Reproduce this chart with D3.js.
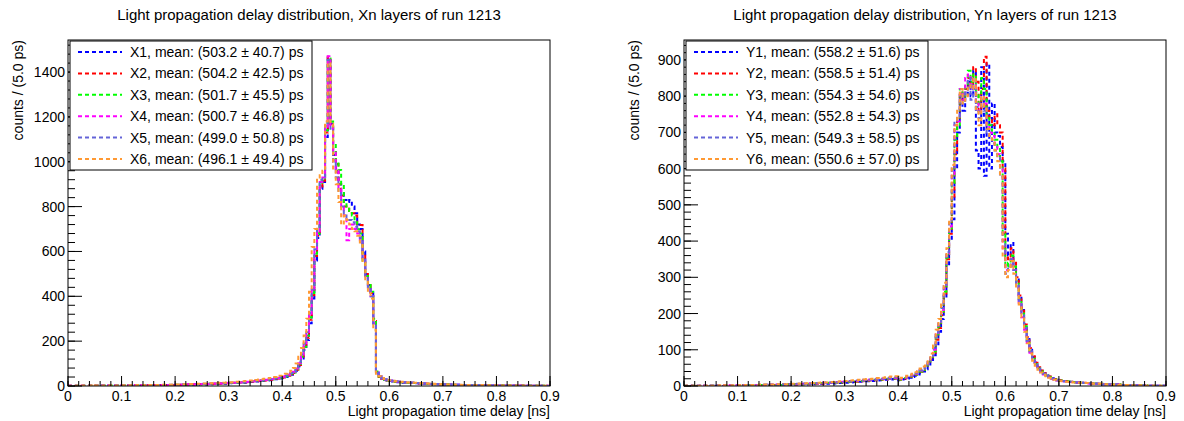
<!DOCTYPE html>
<html>
<head>
<meta charset="utf-8">
<script src="https://cdn.jsdelivr.net/npm/d3@7"></script>
<style>
  body { margin: 0; background: #fff; }
  svg { display: block; }
  text { font-family: "Liberation Sans", Arial, Helvetica, sans-serif; fill: #000; }
</style>
</head>
<body>
<svg id="canvas" width="1184" height="421"></svg>
<script>
// Histogram binning: 180 bins of 5 ps between 0 and 0.9 ns
const binWidth = 0.005;
const xRange = [0, 0.9];
const xMajorTicks = [0, 0.1, 0.2, 0.3, 0.4, 0.5, 0.6, 0.7, 0.8, 0.9];
const xTickLabels = ["0", "0.1", "0.2", "0.3", "0.4", "0.5", "0.6", "0.7", "0.8", "0.9"];
const xMinorStep = 0.02;

const seriesColors = ["#0000ff", "#ff0000", "#00ff00", "#ff00ff", "#6464d8", "#ff9933"];

// ---- Xn layers ----
const xNames = ["X1", "X2", "X3", "X4", "X5", "X6"];
const xMeans = ["(503.2 \u00b1 40.7)", "(504.2 \u00b1 42.5)", "(501.7 \u00b1 45.5)", "(500.7 \u00b1 46.8)", "(499.0 \u00b1 50.8)", "(496.1 \u00b1 49.4)"];
const xYTicks = [0, 200, 400, 600, 800, 1000, 1200, 1400];
const xYMax = 1543;

const X1 = [0,1,0,0,1,1,0,1,2,1,1,0,2,1,1,2,1,2,1,2,
2,1,2,3,2,2,3,2,3,3,2,4,3,3,4,3,4,5,4,4,
5,4,6,5,6,7,6,7,6,8,8,7,9,8,10,9,10,11,10,12,
12,13,14,13,15,16,15,17,18,19,20,21,22,24,25,26,28,30,31,34,
37,40,45,50,
56,68,88,118,160,205,280,390,560,660,880,910,1110,1462,1170,1030,970,900,860,830,820,829,800,770,720,700,600,500,450,420,280,60,42,33,28,24,
22,20,19,17,17,15,15,14,13,12,12,11,11,10,9,9,9,8,8,7,
7,6,7,6,5,6,5,5,4,5,4,4,4,3,3,4,3,3,2,3,
2,3,2,2,1,2,2,1,2,1,1,1,2,1,0,1,1,0,1,0];

const X2 = [1,0,0,1,0,1,1,0,1,2,1,1,1,2,2,1,2,1,3,2,
1,2,2,2,3,3,2,3,2,4,3,3,4,3,3,4,5,4,5,4,
5,6,5,6,6,7,7,8,7,8,9,8,9,10,9,11,10,11,12,12,
13,14,13,15,16,16,17,18,19,21,21,22,24,25,26,28,29,31,33,36,
38,42,46,52,
58,72,94,124,170,215,295,405,580,670,890,915,1130,1468,1160,1050,990,900,850,800,790,780,770,760,720,718,590,510,455,415,290,62,40,32,27,24,
23,21,19,18,17,16,15,14,14,13,12,11,11,10,10,9,8,8,8,7,
7,7,6,6,6,5,5,5,5,4,4,4,3,4,3,3,3,3,3,2,
3,2,2,2,2,1,2,1,1,2,1,1,1,1,1,0,1,1,0,1];

const X3 = [0,0,1,1,1,0,1,1,1,1,2,1,1,1,2,2,2,1,2,2,
2,2,3,2,2,3,3,3,2,3,4,3,4,4,3,4,4,5,5,5,
6,5,6,6,7,7,8,7,8,9,8,9,10,9,10,10,11,12,11,13,
13,14,15,15,16,17,18,18,20,21,22,23,25,26,27,29,30,32,34,37,
40,43,48,54,
60,75,98,130,175,225,305,415,590,680,900,925,1140,1460,1180,1080,1000,963,900,820,800,780,760,730,700,680,560,490,450,420,300,65,42,33,28,25,
23,21,20,18,17,16,15,15,14,13,12,12,11,10,10,9,9,8,8,8,
7,7,6,6,6,5,5,5,5,4,4,4,4,3,3,3,3,3,2,2,
2,2,2,2,2,2,1,1,1,1,1,1,1,1,1,1,0,1,1,0];

const X4 = [1,0,1,0,1,1,1,0,1,1,1,2,1,2,1,2,2,2,2,1,
2,3,2,3,2,3,3,4,3,3,3,4,4,3,4,5,4,5,5,6,
5,6,6,7,7,8,7,8,8,9,9,10,9,10,11,10,12,11,12,13,
14,14,15,16,16,17,18,19,20,21,23,24,25,27,28,30,31,33,35,38,
41,45,50,56,
63,78,102,135,180,232,315,425,600,690,910,930,1150,1470,1150,1040,960,880,800,760,650,700,720,700,680,650,560,480,430,400,280,60,44,34,29,26,
24,22,20,19,18,17,16,15,14,13,13,12,11,11,10,9,9,9,8,8,
7,7,7,6,6,6,5,5,5,5,4,4,4,4,3,3,3,3,2,3,
2,2,2,2,2,1,2,1,2,1,1,1,1,1,0,1,1,1,0,1];

const X5 = [1,1,0,1,1,1,2,1,1,2,1,1,2,2,2,1,2,2,2,2,
3,2,3,3,3,3,3,4,4,3,4,4,4,5,4,5,5,5,6,5,
6,6,7,7,7,8,8,8,9,9,10,10,10,11,11,12,12,13,13,14,
14,15,16,16,17,18,19,20,21,22,24,25,26,28,29,31,33,35,37,40,
43,47,52,58,
66,82,108,140,190,240,325,430,610,700,920,935,1160,1455,1140,1000,930,860,800,770,750,740,730,710,690,660,570,480,430,400,270,58,45,36,30,27,
25,23,21,20,18,17,16,15,15,14,13,12,12,11,10,10,9,9,8,8,
8,7,7,6,6,6,6,5,5,5,4,4,4,4,3,3,3,3,3,3,
2,2,2,2,2,2,2,1,1,1,1,1,1,1,1,1,1,0,1,0];

const X6 = [0,1,1,1,1,2,1,1,2,1,2,2,1,2,2,2,3,2,2,3,
3,3,3,3,4,3,4,4,4,5,4,5,5,5,5,6,6,6,6,7,
7,7,8,8,8,9,9,10,10,10,11,11,12,12,13,13,14,14,15,16,
16,17,18,19,20,21,22,23,24,26,27,29,30,32,34,36,38,40,43,46,
50,55,61,68,
80,100,130,170,225,300,420,620,700,930,940,960,1180,1440,1170,960,900,820,720,760,740,720,700,690,670,640,550,470,420,390,250,55,44,36,30,27,
25,23,21,20,19,18,16,16,15,14,13,13,12,11,11,10,10,9,9,8,
8,7,7,7,6,6,6,5,5,5,5,4,4,4,4,3,3,3,3,3,
3,2,2,2,2,2,2,2,1,1,1,1,1,1,1,1,1,1,1,0];

// ---- Yn layers ----
const yNames = ["Y1", "Y2", "Y3", "Y4", "Y5", "Y6"];
const yMeans = ["(558.2 \u00b1 51.6)", "(558.5 \u00b1 51.4)", "(554.3 \u00b1 54.6)", "(552.8 \u00b1 54.3)", "(549.3 \u00b1 58.5)", "(550.6 \u00b1 57.0)"];
const yYTicks = [0, 100, 200, 300, 400, 500, 600, 700, 800, 900];
const yYMax = 955;

const Y1 = [0,0,1,0,0,1,0,1,0,1,1,0,1,1,0,1,1,1,1,2,
1,1,2,1,2,1,2,2,2,2,3,2,2,3,3,2,3,3,3,4,
3,4,4,4,5,4,5,5,5,6,6,6,7,6,7,8,7,8,8,9,
9,10,10,11,11,12,12,13,13,14,14,15,15,16,16,17,18,18,19,20,
16,18,19,21,23,25,28,32,36,40,
46,55,66,85,115,150,185,240,330,400,
460,600,700,800,760,800,840,800,870,650,
600,880,580,890,600,780,700,690,660,620,
420,360,395,330,300,250,210,170,130,100,
80,65,52,42,35,30,26,22,19,17,
15,14,13,12,11,11,10,9,9,8,8,7,7,6,6,6,5,5,5,4,
4,4,3,3,3,3,2,2,2,2,2,2,1,1,1,1,1,1,0,1];

const Y2 = [0,1,0,1,0,0,1,1,1,0,1,1,1,0,1,1,2,1,1,1,
2,1,2,2,1,2,2,2,3,2,2,3,3,2,3,3,3,4,3,4,
4,4,4,5,5,5,5,6,6,6,7,7,7,8,8,8,9,9,10,10,
10,11,11,12,12,13,13,14,14,15,16,16,17,17,18,18,19,19,20,21,
17,19,21,23,25,27,31,35,39,44,
50,60,72,92,128,160,195,255,350,420,
520,640,740,810,790,820,850,830,880,840,
760,820,909,760,740,720,750,720,700,600,
360,350,380,340,300,250,215,170,135,105,
82,64,52,43,36,30,26,22,19,17,
16,15,14,13,12,11,11,10,9,9,8,8,7,7,6,6,5,5,5,4,
4,4,4,3,3,3,3,2,2,2,2,2,1,1,1,1,1,0,1,1];

const Y3 = [1,0,0,1,1,0,1,0,1,1,1,1,0,1,1,2,1,1,2,1,
2,2,1,2,2,2,3,2,2,3,3,3,2,3,3,4,3,4,4,4,
4,5,5,5,5,6,6,6,7,7,7,8,8,8,9,9,9,10,10,11,
11,12,12,13,13,14,14,15,15,16,17,17,18,18,19,19,20,20,21,22,
18,20,22,24,26,28,32,36,40,45,
52,62,75,95,135,165,200,260,355,430,
560,680,720,820,800,830,870,840,860,810,
780,850,820,740,720,700,680,660,620,420,
330,340,360,330,290,240,200,165,125,95,
75,60,48,40,34,29,25,21,18,16,
15,14,13,13,12,11,10,10,9,9,8,8,7,7,6,6,6,5,5,5,
4,4,4,3,3,3,3,2,2,2,2,2,2,1,1,1,1,1,1,0];

const Y4 = [0,1,1,0,1,1,0,1,1,1,0,1,1,1,2,1,1,2,1,2,
2,2,2,2,2,3,2,3,3,3,3,3,4,3,4,4,4,4,5,4,
5,5,5,6,6,6,7,7,7,7,8,8,9,9,9,10,10,11,11,12,
12,13,13,14,14,15,15,16,16,17,18,18,19,19,20,20,21,22,22,23,
19,21,23,25,28,30,34,38,43,48,
55,66,80,100,142,172,210,270,365,440,
580,720,730,820,790,850,860,820,830,780,
760,800,780,720,700,690,660,640,600,380,
320,330,350,320,280,230,190,155,120,92,
72,58,46,38,32,28,24,20,17,15,
14,13,13,12,11,11,10,9,9,8,8,7,7,6,6,6,5,5,5,4,
4,4,3,3,3,3,3,2,2,2,2,1,2,1,1,1,1,1,0,1];

const Y5 = [1,1,0,1,1,1,1,0,1,1,1,1,2,1,1,1,2,2,1,2,
2,2,2,3,2,3,3,3,3,3,4,3,4,4,4,4,5,4,5,5,
5,6,6,6,6,7,7,7,8,8,8,9,9,10,10,10,11,11,12,12,
13,13,14,14,15,16,16,17,17,18,19,19,20,21,21,22,23,23,24,25,
20,22,24,26,29,32,36,40,45,50,
58,70,84,105,148,178,215,275,370,450,
600,730,740,800,780,810,850,790,820,770,
740,780,760,700,690,670,650,630,580,400,
310,330,350,320,280,235,195,160,125,96,
76,60,48,40,34,29,25,21,18,16,
15,14,13,12,12,11,10,10,9,8,8,8,7,7,6,6,5,5,5,5,
4,4,4,3,3,3,3,3,2,2,2,2,1,1,1,1,1,1,1,0];

const Y6 = [1,1,1,1,0,1,1,1,1,2,1,1,1,2,1,2,2,2,2,2,
2,3,2,3,3,3,3,3,4,3,4,4,4,4,5,5,5,5,5,6,
6,6,6,7,7,7,8,8,8,9,9,10,10,10,11,11,12,12,13,13,
14,14,15,16,16,17,17,18,19,19,20,21,22,22,23,24,25,26,26,27,
21,23,25,28,31,34,38,43,48,54,
62,74,90,112,155,185,225,285,380,460,
610,720,760,820,780,800,830,820,850,760,
720,800,770,710,690,680,650,620,580,360,
300,320,345,310,270,225,190,150,118,90,
70,56,45,37,31,27,23,20,17,15,
14,13,12,12,11,10,10,9,9,8,8,7,7,6,6,6,5,5,4,4,
4,4,3,3,3,3,2,2,2,2,2,2,1,1,1,1,1,1,0,1];

const svg = d3.select("#canvas");
svg.append("rect").attr("width", 1184).attr("height", 421).attr("fill", "#fff");

function drawPanel(cfg) {
  const g = svg.append("g");
  const x = d3.scaleLinear().domain(xRange).range([cfg.left, cfg.right]);
  const y = d3.scaleLinear().domain([0, cfg.yMax]).range([cfg.bottom, cfg.top]);

  const clipId = "clip-" + cfg.id;
  svg.append("clipPath").attr("id", clipId)
    .append("rect").attr("x", cfg.left).attr("y", cfg.top)
    .attr("width", cfg.right - cfg.left).attr("height", cfg.bottom - cfg.top);

  // title
  g.append("text").attr("x", (cfg.left + cfg.right) / 2).attr("y", 20)
    .attr("text-anchor", "middle").attr("font-size", 15).text(cfg.title);

  // histograms as step lines
  const line = d3.line().x(d => d[0]).y(d => d[1]);
  const hg = g.append("g").attr("clip-path", `url(#${clipId})`);
  cfg.series.forEach((vals, k) => {
    const pts = [];
    vals.forEach((v, i) => {
      pts.push([x(i * binWidth), y(v)]);
      pts.push([x((i + 1) * binWidth), y(v)]);
    });
    hg.append("path").attr("d", line(pts)).attr("fill", "none")
      .attr("stroke", seriesColors[k]).attr("stroke-width", 2)
      .attr("stroke-dasharray", "4,3");
  });

  // frame
  g.append("rect").attr("x", cfg.left).attr("y", cfg.top)
    .attr("width", cfg.right - cfg.left).attr("height", cfg.bottom - cfg.top)
    .attr("fill", "none").attr("stroke", "#000").attr("stroke-width", 1);

  // x-axis ticks (inside the frame)
  const xMinor = d3.range(0, Math.round(xRange[1] / xMinorStep) + 1).map(j => j * xMinorStep);
  g.selectAll(null).data(xMinor).enter().append("line")
    .attr("x1", d => x(d)).attr("x2", d => x(d))
    .attr("y1", cfg.bottom).attr("y2", cfg.bottom - 5)
    .attr("stroke", "#000").attr("stroke-width", 1);
  g.selectAll(null).data(xMajorTicks).enter().append("line")
    .attr("x1", d => x(d)).attr("x2", d => x(d))
    .attr("y1", cfg.bottom).attr("y2", cfg.bottom - 10)
    .attr("stroke", "#000").attr("stroke-width", 1);
  g.selectAll(null).data(xMajorTicks).enter().append("text")
    .attr("x", d => x(d)).attr("y", cfg.bottom + 15)
    .attr("text-anchor", "middle").attr("font-size", 14)
    .text((d, i) => xTickLabels[i]);

  // y-axis ticks
  const yStep = cfg.yTicks[1] - cfg.yTicks[0];
  const yMinorStep = yStep / 5;
  const yMinor = d3.range(0, Math.floor(cfg.yMax / yMinorStep) + 1).map(j => j * yMinorStep);
  g.selectAll(null).data(yMinor).enter().append("line")
    .attr("x1", cfg.left).attr("x2", cfg.left + 7)
    .attr("y1", d => y(d)).attr("y2", d => y(d))
    .attr("stroke", "#000").attr("stroke-width", 1);
  g.selectAll(null).data(cfg.yTicks).enter().append("line")
    .attr("x1", cfg.left).attr("x2", cfg.left + 14)
    .attr("y1", d => y(d)).attr("y2", d => y(d))
    .attr("stroke", "#000").attr("stroke-width", 1);
  g.selectAll(null).data(cfg.yTicks).enter().append("text")
    .attr("x", cfg.left - 3).attr("y", d => y(d) + 5)
    .attr("text-anchor", "end").attr("font-size", 14)
    .text(d => d);

  // axis titles
  g.append("text").attr("x", cfg.right).attr("y", cfg.bottom + 30)
    .attr("text-anchor", "end").attr("font-size", 14)
    .text("Light propagation time delay [ns]");
  g.append("text").attr("transform", `translate(${cfg.left - 45},${cfg.top}) rotate(-90)`)
    .attr("text-anchor", "end").attr("font-size", 14)
    .text("counts / (5.0 ps)");

  // legend
  const lg = g.append("g");
  lg.append("rect").attr("x", cfg.left + 2).attr("y", cfg.top + 1)
    .attr("width", 242).attr("height", 129)
    .attr("fill", "#fff").attr("stroke", "#000").attr("stroke-width", 1);
  cfg.names.forEach((nm, k) => {
    const cy = cfg.top + 12 + k * 21.4;
    lg.append("line").attr("x1", cfg.left + 10).attr("x2", cfg.left + 54)
      .attr("y1", cy).attr("y2", cy)
      .attr("stroke", seriesColors[k]).attr("stroke-width", 2)
      .attr("stroke-dasharray", "4,3");
    lg.append("text").attr("x", cfg.left + 62).attr("y", cy + 5)
      .attr("font-size", 14)
      .text(`${nm}, mean: ${cfg.means[k]} ps`);
  });
}

drawPanel({
  id: "xn", left: 68, right: 550, top: 40, bottom: 386,
  yMax: xYMax, yTicks: xYTicks,
  title: "Light propagation delay distribution, Xn layers of run 1213",
  series: [X1, X2, X3, X4, X5, X6], names: xNames, means: xMeans
});
drawPanel({
  id: "yn", left: 684, right: 1166, top: 40, bottom: 386,
  yMax: yYMax, yTicks: yYTicks,
  title: "Light propagation delay distribution, Yn layers of run 1213",
  series: [Y1, Y2, Y3, Y4, Y5, Y6], names: yNames, means: yMeans
});
</script>
</body>
</html>
